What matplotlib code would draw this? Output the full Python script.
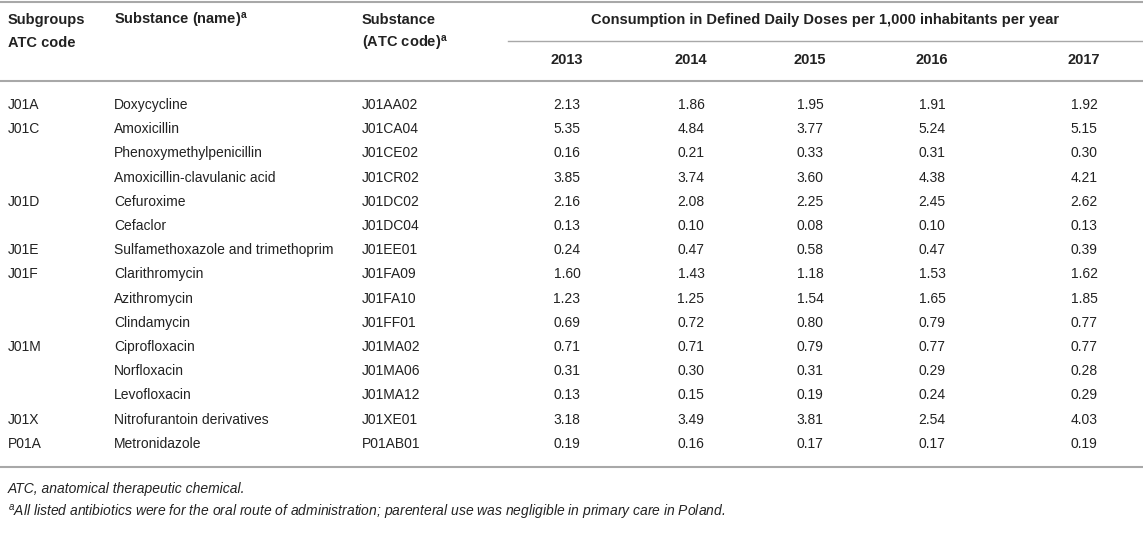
import matplotlib
matplotlib.use("Agg")
import matplotlib.pyplot as plt

plt.rcParams["mathtext.fontset"] = "custom"
plt.rcParams["mathtext.rm"] = "Liberation Sans"
plt.rcParams["mathtext.it"] = "Liberation Sans:italic"
plt.rcParams["mathtext.bf"] = "Liberation Sans:bold"

subgroups = ["J01A", "J01C", "", "", "J01D", "", "J01E", "J01F", "", "", "J01M", "", "", "J01X", "P01A"]
names = ["Doxycycline", "Amoxicillin", "Phenoxymethylpenicillin", "Amoxicillin-clavulanic acid",
         "Cefuroxime", "Cefaclor", "Sulfamethoxazole and trimethoprim", "Clarithromycin",
         "Azithromycin", "Clindamycin", "Ciprofloxacin", "Norfloxacin", "Levofloxacin",
         "Nitrofurantoin derivatives", "Metronidazole"]
codes = ["J01AA02", "J01CA04", "J01CE02", "J01CR02", "J01DC02", "J01DC04", "J01EE01",
         "J01FA09", "J01FA10", "J01FF01", "J01MA02", "J01MA06", "J01MA12", "J01XE01", "P01AB01"]
years = ["2013", "2014", "2015", "2016", "2017"]
v2013 = [2.13, 5.35, 0.16, 3.85, 2.16, 0.13, 0.24, 1.60, 1.23, 0.69, 0.71, 0.31, 0.13, 3.18, 0.19]
v2014 = [1.86, 4.84, 0.21, 3.74, 2.08, 0.10, 0.47, 1.43, 1.25, 0.72, 0.71, 0.30, 0.15, 3.49, 0.16]
v2015 = [1.95, 3.77, 0.33, 3.60, 2.25, 0.08, 0.58, 1.18, 1.54, 0.80, 0.79, 0.31, 0.19, 3.81, 0.17]
v2016 = [1.91, 5.24, 0.31, 4.38, 2.45, 0.10, 0.47, 1.53, 1.65, 0.79, 0.77, 0.29, 0.24, 2.54, 0.17]
v2017 = [1.92, 5.15, 0.30, 4.21, 2.62, 0.13, 0.39, 1.62, 1.85, 0.77, 0.77, 0.28, 0.29, 4.03, 0.19]
values = [v2013, v2014, v2015, v2016, v2017]

W, H = 1143, 544
fig = plt.figure(figsize=(W / 100, H / 100), dpi=100)
ax = fig.add_axes([0, 0, 1, 1])
ax.set_xlim(0, W)
ax.set_ylim(H, 0)
ax.axis("off")

FONT = "Liberation Sans"
FS = 10
HFS = 10.5
TC = "#222222"
LC = "#a8a8a8"

def txt(x, y, s, ha="left", bold=False, italic=False, size=FS):
    ax.text(x, y, s, ha=ha, va="center", fontsize=size, family=FONT, color=TC,
            fontweight="bold" if bold else "normal",
            fontstyle="italic" if italic else "normal")

# rules
ax.plot([0, W], [2, 2], color=LC, lw=1.5)
ax.plot([508, W], [41, 41], color=LC, lw=1.0)
ax.plot([0, W], [81, 81], color=LC, lw=1.5)
ax.plot([0, W], [467, 467], color=LC, lw=1.5)

x_sub, x_name, x_code = 8, 114, 362
x_years = [567, 691, 810, 932, 1084]

# header
txt(x_sub, 20, "Subgroups", bold=True, size=HFS)
txt(x_sub, 43, "ATC code", bold=True, size=HFS)
txt(x_name, 20, r"Substance (name)$^{\mathbf{a}}$", bold=True, size=HFS)
txt(x_code, 20, "Substance", bold=True, size=HFS)
txt(x_code, 43, r"(ATC code)$^{\mathbf{a}}$", bold=True, size=HFS)
txt(825, 20, "Consumption in Defined Daily Doses per 1,000 inhabitants per year", ha="center", bold=True, size=HFS)
for x, y in zip(x_years, years):
    txt(x, 60, y, ha="center", bold=True, size=HFS)

# body
y0, dy = 105, 24.2
for i in range(len(names)):
    y = y0 + i * dy
    txt(x_sub, y, subgroups[i])
    txt(x_name, y, names[i])
    txt(x_code, y, codes[i])
    for x, col in zip(x_years, values):
        txt(x, y, f"{col[i]:.2f}", ha="center")

# footnotes
txt(x_sub, 489, "ATC, anatomical therapeutic chemical.", italic=True)
txt(x_sub, 512, r"$^{\mathit{a}}$All listed antibiotics were for the oral route of administration; parenteral use was negligible in primary care in Poland.", italic=True)

fig.savefig("out.png", dpi=100)
